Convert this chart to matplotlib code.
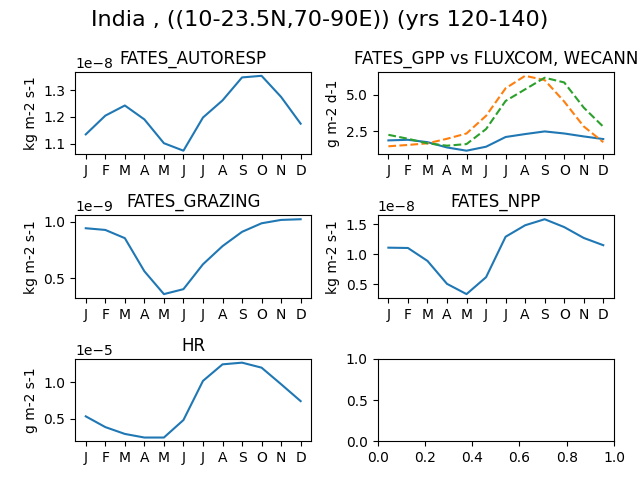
import matplotlib
matplotlib.use('Agg')
import matplotlib.pyplot as plt

months = ['J', 'F', 'M', 'A', 'M', 'J', 'J', 'A', 'S', 'O', 'N', 'D']

autoresp = [1.135e-8, 1.205e-8, 1.243e-8, 1.191e-8, 1.102e-8, 1.074e-8,
            1.198e-8, 1.262e-8, 1.348e-8, 1.354e-8, 1.275e-8, 1.175e-8]

gpp_fates = [1.89, 1.93, 1.77, 1.41, 1.19, 1.46, 2.12, 2.32, 2.50, 2.36, 2.16, 1.98]
gpp_fluxcom = [1.49, 1.58, 1.69, 2.00, 2.36, 3.56, 5.43, 6.28, 5.99, 4.53, 2.84, 1.77]
gpp_wecann = [2.27, 2.00, 1.69, 1.53, 1.64, 2.66, 4.57, 5.36, 6.15, 5.83, 4.12, 2.82]

grazing = [0.944e-9, 0.929e-9, 0.856e-9, 0.562e-9, 0.359e-9, 0.403e-9,
           0.624e-9, 0.785e-9, 0.912e-9, 0.988e-9, 1.018e-9, 1.024e-9]

npp = [1.109e-8, 1.104e-8, 0.89e-8, 0.51e-8, 0.34e-8, 0.62e-8,
       1.29e-8, 1.48e-8, 1.58e-8, 1.45e-8, 1.27e-8, 1.15e-8]

hr = [0.536e-5, 0.39e-5, 0.297e-5, 0.248e-5, 0.248e-5, 0.486e-5,
      1.018e-5, 1.243e-5, 1.266e-5, 1.198e-5, 0.973e-5, 0.743e-5]


def plot_var(ax, values, title, units):
    ax.plot(range(12), values)
    ax.set_title(title)
    ax.set_ylabel(units)
    ax.set_xticks(range(12))
    ax.set_xticklabels(months)


fig, axes = plt.subplots(3, 2, figsize=(6.4, 4.8))
fig.suptitle('India , ((10-23.5N,70-90E)) (yrs 120-140)', fontsize=16)

plot_var(axes[0, 0], autoresp, 'FATES_AUTORESP', 'kg m-2 s-1')

ax = axes[0, 1]
ax.plot(range(12), gpp_fates)
ax.plot(range(12), gpp_fluxcom, linestyle='--')
ax.plot(range(12), gpp_wecann, linestyle='--')
ax.set_title('FATES_GPP vs FLUXCOM, WECANN')
ax.set_ylabel('g m-2 d-1')
ax.set_xticks(range(12))
ax.set_xticklabels(months)

plot_var(axes[1, 0], grazing, 'FATES_GRAZING', 'kg m-2 s-1')
plot_var(axes[1, 1], npp, 'FATES_NPP', 'kg m-2 s-1')
plot_var(axes[2, 0], hr, 'HR', 'g m-2 s-1')

plt.tight_layout()
plt.savefig('out.png', dpi=100)
